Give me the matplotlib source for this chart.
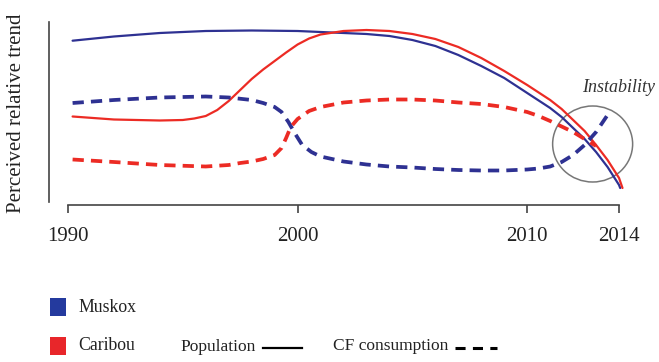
import matplotlib
matplotlib.use("Agg")
import matplotlib.pyplot as plt
from matplotlib.patches import Ellipse, Rectangle
from matplotlib.lines import Line2D

plt.rcParams['font.family'] = ['Liberation Serif', 'DejaVu Serif']

# ---------------- data (perceived relative trend, arbitrary units) ----------------
muskox_pop_years = [1990.2, 1992, 1994, 1996, 1998, 2000, 2001, 2002, 2003, 2004, 2005, 2006,
                    2007, 2008, 2009, 2010, 2011, 2011.5, 2012, 2012.5, 2013, 2013.5, 2014, 2014.05]
muskox_pop = [164.3, 168.5, 172, 174, 174.5, 174, 173, 172, 171, 169, 165, 159,
              150, 139, 127, 112, 97, 88, 77, 66, 53, 38, 20, 17]

caribou_pop_years = [1990.2, 1992, 1994, 1995, 1995.5, 1996, 1996.5, 1997, 1997.5, 1998, 1998.5,
                     1999, 1999.5, 2000, 2000.5, 2001, 2002, 2003, 2004, 2005, 2006, 2007, 2008,
                     2009, 2010, 2011, 2011.5, 2012, 2012.5, 2013, 2013.5, 2014, 2014.15]
caribou_pop = [88.5, 85.5, 84.5, 85, 86.5, 89, 95, 104, 115, 126, 135.5,
               144, 152.5, 160.5, 166.5, 170.5, 174, 175, 174, 171, 166, 158, 147,
               134, 120, 105, 96, 85, 74, 60, 45, 27, 17]

muskox_cf_years = [1990.2, 1992, 1994, 1996, 1997, 1998, 1998.5, 1999, 1999.3, 1999.6, 1999.9,
                   2000.2, 2000.6, 2001, 2002, 2003, 2004, 2005, 2006, 2007, 2008, 2009, 2010,
                   2010.5, 2011, 2011.5, 2012, 2012.5, 2013, 2013.5]
muskox_cf = [102, 105, 107.5, 108.5, 107.5, 105, 102, 98, 93, 83, 71,
             60, 53, 48.5, 43.5, 40.5, 38.5, 37.5, 36, 35, 34.5, 34.5, 35.5,
             36.5, 38.5, 43, 50, 60, 73, 90]

caribou_cf_years = [1990.2, 1992, 1994, 1996, 1997, 1997.5, 1998, 1998.5, 1999, 1999.3, 1999.5,
                    1999.7, 2000, 2000.5, 2001, 2002, 2003, 2004, 2005, 2006, 2007, 2008, 2009,
                    2010, 2010.5, 2011, 2011.5, 2012, 2012.5, 2013]
caribou_cf = [45.5, 43, 40, 38.5, 40, 42, 43.5, 46, 50, 57, 67,
              78, 86, 94, 98, 102.5, 104.5, 105.5, 105.5, 104.5, 102.5, 101, 98,
              93, 89, 84, 78.5, 73, 66, 59]

xtick_years = [1990, 2000, 2010, 2014]
xtick_labels = ['1990', '2000', '2010', '2014']
legend_species = ['Muskox', 'Caribou']

# ---------------- style ----------------
BLUE = '#2e3192'
RED = '#ec2b24'
SQ_BLUE = '#243a9e'
SQ_RED = '#e8262a'
AXC = '#444444'

W, H = 659, 362
fig = plt.figure(figsize=(W / 100, H / 100), dpi=100)
fig.patch.set_facecolor('white')

# axes geometry in pixels
PX_PER_YEAR = 22.96
X1990 = 68
ax_left_px, ax_right_px = 49, 640
ax_bottom_px, ax_top_px = 205, 15
ax = fig.add_axes([ax_left_px / W, (H - ax_bottom_px) / H,
                   (ax_right_px - ax_left_px) / W, (ax_bottom_px - ax_top_px) / H])
ax.set_xlim(1990 + (ax_left_px - X1990) / PX_PER_YEAR, 1990 + (ax_right_px - X1990) / PX_PER_YEAR)
ax.set_ylim(0, ax_bottom_px - ax_top_px)
ax.patch.set_alpha(0)

solid_kw = dict(lw=1.6, solid_capstyle='round', solid_joinstyle='round')
dash_kw = dict(lw=2.7, dashes=(3.0, 1.9))
ax.plot(muskox_pop_years, muskox_pop, color=BLUE, **solid_kw)
ax.plot(caribou_pop_years, caribou_pop, color=RED, **solid_kw)
ax.plot(muskox_cf_years, muskox_cf, color=BLUE, **dash_kw)
ax.plot(caribou_cf_years, caribou_cf, color=RED, **dash_kw)

# instability circle and label
ax.add_patch(Ellipse((2012.85, 61), 80 / PX_PER_YEAR, 76, fill=False, ec='#777777', lw=1.1))
ax.text(2014.0, 118, 'Instability', ha='center', va='center', fontsize=13,
        fontstyle='italic', color='#333333')

# spines
for s in ['top', 'right']:
    ax.spines[s].set_visible(False)
ax.spines['left'].set_bounds(3, 183)
ax.spines['left'].set_color(AXC)
ax.spines['left'].set_linewidth(1.2)
ax.spines['bottom'].set_bounds(1990, 2014)
ax.spines['bottom'].set_color(AXC)
ax.spines['bottom'].set_linewidth(1.2)
ax.set_yticks([])
ax.set_xticks(xtick_years)
ax.set_xticklabels(xtick_labels, fontsize=15, color='#222222')
ax.tick_params(axis='x', direction='out', length=6, width=1.2, color=AXC, pad=10)

fig.text(17 / W, 1 - 113 / H, 'Perceived relative trend', rotation=90, ha='center',
         va='center', fontsize=15, color='#222222')

# legend
sq_colors = [SQ_BLUE, SQ_RED]
sq_tops = [298, 337]
for name, c, top in zip(legend_species, sq_colors, sq_tops):
    fig.add_artist(Rectangle((50 / W, 1 - (top + 18) / H), 16 / W, 18 / H,
                             transform=fig.transFigure, fc=c, ec='none'))
    fig.text(78 / W, 1 - (top + 9) / H, name, ha='left', va='center', fontsize=12.8,
             color='#222222')

fig.text(180 / W, 1 - 347 / H, 'Population', ha='left', va='center', fontsize=12.5,
         color='#222222')
fig.add_artist(Line2D([263 / W, 302 / W], [1 - 348 / H, 1 - 348 / H],
                      transform=fig.transFigure, color='black', lw=1.6))
fig.text(333 / W, 1 - 346 / H, 'CF consumption', ha='left', va='center', fontsize=12.5,
         color='#222222')
fig.add_artist(Line2D([455 / W, 497 / W], [1 - 348 / H, 1 - 348 / H],
                      transform=fig.transFigure, color='black', lw=2.2,
                      dashes=(3.3, 2.4)))

fig.savefig('out.png', dpi=100)
